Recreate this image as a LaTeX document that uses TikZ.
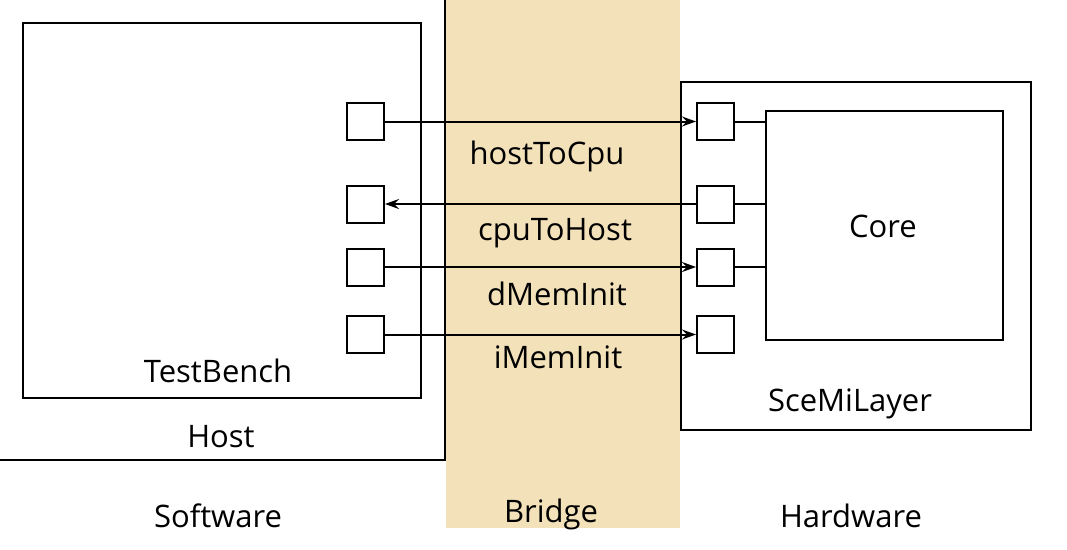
\documentclass[tikz,border=0pt]{standalone}
\usepackage{fontspec}
\setmainfont{Open Sans}
\usetikzlibrary{arrows.meta}
\definecolor{bridgetan}{RGB}{243,225,186}
\tikzset{
  box/.style={draw=black, line width=2pt, inner sep=0pt},
  port/.style={box, minimum width=37pt, minimum height=37pt},
  lbl/.style={font=\fontsize{31}{34}\selectfont, inner sep=0pt},
  sig/.style={line width=2pt, -{Stealth[length=14pt,width=10pt,inset=5pt]}},
  wire/.style={line width=2pt}
}
\begin{document}
\begin{tikzpicture}[x=1pt,y=-1pt]
\useasboundingbox (0,0) rectangle (1067,549);
\clip (0,0) rectangle (1067,549);
% bridge band
\fill[bridgetan] (446,0) rectangle (680,528);
% host box (extends beyond the picture)
\node[box, anchor=south east, minimum width=470pt, minimum height=480pt] (host) at (446,461) {};
% testbench
\node[box, anchor=north west, minimum width=398pt, minimum height=375pt] (tb) at (22,22) {};
% scemilayer
\node[box, fill=white, anchor=north west, minimum width=350pt, minimum height=348pt] (sml) at (680,81) {};
% core
\node[box, anchor=north west, minimum width=237pt, minimum height=229pt] (core) at (765,110) {};
% ports
\node[port, fill=white] (l1) at (365.5,121.5) {};
\node[port, fill=white] (l2) at (365.5,204) {};
\node[port, fill=white] (l3) at (365.5,267) {};
\node[port, fill=white] (l4) at (365.5,334.5) {};
\node[port, fill=white] (r1) at (715.5,121.5) {};
\node[port, fill=white] (r2) at (715.5,204) {};
\node[port, fill=white] (r3) at (715.5,267) {};
\node[port, fill=white] (r4) at (715.5,334.5) {};
% signals
\draw[sig] (l1.east) -- (r1.west);
\draw[sig] (r2.west) -- (l2.east);
\draw[sig] (l3.east) -- (r3.west);
\draw[sig] (l4.east) -- (r4.west);
% wires to core
\draw[wire] (r1.east) -- (r1.east -| core.west);
\draw[wire] (r2.east) -- (r2.east -| core.west);
\draw[wire] (r3.east) -- (r3.east -| core.west);
% labels
\node[lbl] (t1) at (547,156) {hostToCpu};
\node[lbl] (t2) at (555,233) {cpuToHost};
\node[lbl] (t3) at (557,294) {dMemInit};
\node[lbl] (t4) at (558,357) {iMemInit};
\node[lbl] (tcore) at (883,226) {Core};
\node[lbl] (ttb) at (218,371) {TestBench};
\node[lbl] (thost) at (221,437) {Host};
\node[lbl] (tsml) at (850,404) {SceMiLayer};
\node[lbl] (tsw) at (218,516) {Software};
\node[lbl] (tbr) at (551,514) {Bridge};
\node[lbl] (thw) at (851,516) {Hardware};
\end{tikzpicture}
\end{document}
